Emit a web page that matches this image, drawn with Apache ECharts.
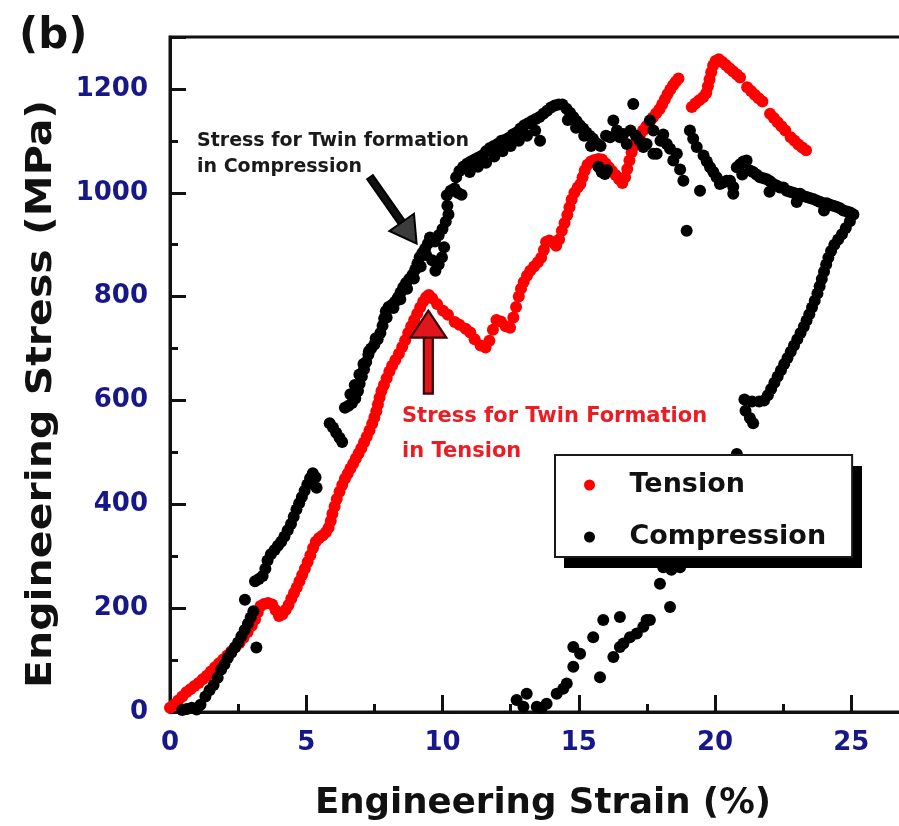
<!DOCTYPE html>
<html>
<head>
<meta charset="utf-8">
<script src="https://cdn.jsdelivr.net/npm/echarts@6/dist/echarts.min.js"></script>
<style>
  html, body { margin: 0; padding: 0; background: #ffffff; }
  #chart { width: 899px; height: 826px; }
</style>
</head>
<body>
<div id="chart"></div>
<script>
// Tick labels shown on each axis
const strainTickLabels = [0, 5, 10, 15, 20, 25];
const stressTickLabels = [0, 200, 400, 600, 800, 1000, 1200];

// Tension test: [engineering strain (%), engineering stress (MPa)]
const tension = [
  [0.00, 8], [0.15, 14], [0.30, 22], [0.45, 30], [0.60, 38], [0.75, 44], [0.90, 50], [1.05, 56],
  [1.20, 63], [1.35, 70], [1.50, 78], [1.65, 86], [1.80, 94], [1.95, 101], [2.10, 109], [2.25, 117],
  [2.40, 125], [2.55, 133], [2.70, 143], [2.85, 154], [3.00, 166], [3.12, 178], [3.22, 192], [3.32, 204],
  [3.45, 208], [3.60, 210], [3.75, 207], [3.88, 196], [4.00, 185], [4.12, 188], [4.25, 197],
  [4.35, 206], [4.45, 218], [4.55, 229], [4.65, 240], [4.75, 252], [4.85, 264], [4.95, 276], [5.05, 289],
  [5.15, 302], [5.25, 316], [5.35, 328], [5.47, 335], [5.60, 340], [5.72, 346], [5.82, 355], [5.90, 368],
  [5.96, 382], [6.04, 396], [6.12, 410], [6.22, 424], [6.32, 437], [6.42, 449], [6.52, 459], [6.62, 469],
  [6.72, 478], [6.82, 488], [6.92, 498], [7.02, 508], [7.12, 519], [7.22, 530], [7.32, 542], [7.42, 555],
  [7.50, 567], [7.57, 579], [7.63, 592], [7.69, 605], [7.76, 618], [7.85, 630], [7.95, 643], [8.05, 656],
  [8.15, 667], [8.27, 678], [8.40, 690], [8.52, 703], [8.63, 716], [8.74, 730], [8.85, 743], [8.96, 755],
  [9.07, 767], [9.18, 779], [9.29, 790], [9.40, 799], [9.50, 803],
  [9.62, 797], [9.80, 786], [10.02, 773], [10.20, 765], [10.45, 751], [10.62, 746], [10.85, 738],
  [11.02, 731], [11.18, 718], [11.40, 706], [11.58, 702], [11.72, 715], [11.85, 736], [11.98, 755],
  [12.14, 752], [12.32, 743], [12.48, 740], [12.60, 760], [12.70, 780], [12.80, 800], [12.88, 815],
  [12.98, 828], [13.10, 840], [13.22, 850], [13.36, 858], [13.50, 866], [13.62, 875], [13.72, 890],
  [13.80, 905], [13.92, 908], [14.05, 904], [14.17, 898], [14.28, 910], [14.38, 927], [14.48, 942],
  [14.58, 957], [14.66, 972], [14.74, 987], [14.84, 1000], [14.96, 1010], [15.06, 1017], [15.14, 1030],
  [15.22, 1043], [15.32, 1054], [15.45, 1060], [15.58, 1063], [15.72, 1065], [15.85, 1064], [15.98, 1057],
  [16.10, 1049], [16.22, 1042], [16.35, 1034], [16.48, 1026], [16.60, 1019], [16.70, 1030], [16.78, 1046],
  [16.86, 1062], [16.94, 1078], [17.02, 1090], [17.12, 1100], [17.24, 1110], [17.36, 1120], [17.48, 1128],
  [17.60, 1136], [17.72, 1145], [17.84, 1153], [17.96, 1161], [18.06, 1170], [18.16, 1180], [18.26, 1190],
  [18.36, 1199], [18.46, 1207], [18.56, 1214], [18.66, 1220],
  [19.15, 1165], [19.28, 1172], [19.42, 1178], [19.56, 1184], [19.68, 1192], [19.74, 1205], [19.80, 1218],
  [19.86, 1232], [19.93, 1245], [20.02, 1254], [20.14, 1257], [20.27, 1252], [20.40, 1246], [20.53, 1240],
  [20.66, 1234], [20.80, 1228], [20.92, 1222],
  [21.18, 1203], [21.32, 1196], [21.46, 1189], [21.60, 1182], [21.74, 1176],
  [22.02, 1152], [22.16, 1144], [22.30, 1136], [22.44, 1128], [22.58, 1120],
  [22.78, 1107], [22.92, 1100], [23.06, 1093], [23.20, 1087], [23.34, 1082]
];

// Compression test: [engineering strain (%), engineering stress (MPa)]
const compression = [
  [0.45, 4], [0.62, 6], [0.80, 8], [0.98, 5], [1.12, 14], [1.30, 30], [1.45, 42], [1.60, 52],
  [1.75, 66], [1.88, 82], [2.00, 92], [2.12, 104], [2.25, 114], [2.38, 124], [2.50, 134], [2.62, 146],
  [2.74, 158], [2.86, 170], [2.96, 182], [3.06, 194], [2.75, 216], [3.17, 124],
  [3.12, 252], [3.26, 256], [3.40, 262], [3.50, 276], [3.58, 292], [3.70, 304], [3.84, 312], [3.96, 320],
  [4.08, 328], [4.20, 338], [4.32, 350], [4.44, 362], [4.54, 376], [4.64, 390], [4.74, 402], [4.84, 414],
  [4.94, 426], [5.04, 438], [5.14, 450], [5.24, 460], [5.34, 452], [5.38, 432],
  [5.86, 556], [5.98, 548], [6.10, 538], [6.22, 528], [6.32, 520],
  [6.42, 586], [6.55, 590], [6.68, 595], [6.80, 604], [6.90, 618], [6.96, 632], [7.04, 646], [7.12, 660],
  [7.20, 674], [7.28, 688], [7.38, 700], [7.50, 708], [7.62, 718], [7.72, 730], [7.80, 744], [7.86, 758],
  [7.92, 772], [8.02, 780], [8.14, 784], [8.26, 790], [8.36, 798], [8.46, 808], [8.56, 818], [8.66, 826],
  [8.78, 834], [8.90, 842], [9.00, 852], [9.08, 864], [9.16, 876], [9.26, 884], [9.36, 892], [9.46, 902],
  [9.54, 914],
  [6.62, 612], [6.78, 630], [6.95, 650], [7.10, 670], [7.30, 695], [7.55, 720], [7.95, 760], [8.20, 778],
  [8.45, 795], [8.70, 815], [8.95, 835], [9.20, 858], [9.40, 880],
  [9.62, 870], [9.74, 850], [9.86, 862], [9.98, 876], [10.06, 895], [9.72, 906], [9.86, 918], [10.00, 930],
  [10.12, 944], [10.22, 958], [10.18, 975], [10.16, 995], [10.30, 1004], [10.44, 1008], [10.56, 1000],
  [10.70, 996],
  [10.50, 1030], [10.62, 1042], [10.76, 1050], [10.90, 1056], [11.04, 1060], [11.18, 1064], [11.32, 1068],
  [11.46, 1072], [11.60, 1080], [11.74, 1086], [11.88, 1090], [12.02, 1094], [12.16, 1100], [12.30, 1102],
  [12.44, 1106], [12.58, 1112], [12.72, 1116], [12.86, 1124], [13.00, 1130], [13.14, 1134], [13.28, 1138],
  [13.42, 1142], [13.56, 1146], [13.70, 1152], [13.84, 1158], [13.98, 1164], [14.12, 1168], [14.26, 1170],
  [14.40, 1170],
  [11.00, 1040], [11.30, 1050], [11.60, 1058], [11.90, 1070], [12.20, 1080], [12.50, 1090], [12.80, 1100],
  [13.10, 1110], [13.40, 1120], [13.58, 1100],
  [14.55, 1162], [14.68, 1154], [14.80, 1146], [14.92, 1138], [15.04, 1130], [15.16, 1124], [15.28, 1116],
  [15.40, 1110], [15.52, 1104], [15.64, 1096], [14.60, 1140], [14.90, 1125], [15.20, 1110], [15.45, 1090],
  [15.72, 1050], [15.84, 1040], [15.96, 1036], [16.04, 1044],
  [15.80, 1090], [16.00, 1110], [16.15, 1107], [16.27, 1139], [16.40, 1120], [16.51, 1107], [16.64, 1113],
  [16.76, 1094], [17.00, 1171], [16.90, 1120], [17.10, 1110], [17.24, 1100], [17.37, 1088], [17.49, 1094],
  [17.61, 1139], [17.74, 1120], [17.74, 1075], [17.86, 1075], [18.00, 1100], [18.10, 1112], [18.23, 1094],
  [18.35, 1085], [18.47, 1062], [18.60, 1075], [18.72, 1045], [18.84, 1023], [19.08, 1120], [19.20, 1104],
  [19.33, 1088], [19.45, 1004], [18.96, 927],
  [19.58, 1072], [19.70, 1060], [19.82, 1049], [19.94, 1040], [20.06, 1030], [20.18, 1017], [20.30, 1020],
  [20.43, 1023], [20.55, 1023], [20.67, 1011], [20.67, 998], [20.80, 1049], [20.92, 1055], [21.04, 1060],
  [21.16, 1062], [21.28, 1043], [21.40, 1040], [21.52, 1035], [21.65, 1030], [21.78, 1028], [21.90, 1026],
  [22.02, 1022], [22.14, 1017], [22.26, 1014], [22.38, 1010], [22.51, 1010], [22.63, 1004], [22.75, 1002],
  [22.87, 1000], [22.99, 998], [23.12, 998], [23.24, 994], [23.36, 992], [23.48, 990], [23.60, 988],
  [23.73, 985], [23.86, 982], [23.98, 980], [24.10, 980], [24.22, 977], [24.34, 975], [24.46, 973],
  [24.59, 970], [24.71, 966], [24.84, 964], [24.96, 962], [25.08, 958],
  [21.00, 1035], [22.00, 1002], [23.00, 982], [24.00, 966],
  [24.95, 945], [24.80, 932], [24.66, 920], [24.52, 910], [24.38, 900], [24.26, 888], [24.16, 875],
  [24.08, 862], [24.00, 848], [23.92, 834], [23.84, 820], [23.76, 806], [23.66, 792], [23.56, 779],
  [23.46, 766], [23.36, 754], [23.26, 742], [23.14, 730], [23.02, 718], [22.90, 706], [22.78, 694],
  [22.66, 682], [22.54, 670], [22.42, 658], [22.30, 646], [22.18, 634], [22.06, 622], [21.94, 610],
  [21.80, 600], [21.62, 598], [21.36, 598], [21.08, 602], [21.12, 580], [21.28, 566], [21.40, 556],
  [20.80, 497], [20.40, 450], [20.00, 410], [19.60, 368], [19.20, 322],
  [18.72, 279], [18.40, 274], [18.10, 279], [17.98, 247], [18.35, 202],
  [17.61, 177], [17.49, 177], [17.37, 164], [17.13, 151], [16.88, 144], [16.64, 132], [16.51, 125],
  [16.27, 106], [15.78, 67],
  [16.51, 183], [15.90, 177], [15.53, 144], [15.05, 112], [14.80, 125], [14.80, 87], [14.56, 55],
  [14.43, 45], [14.19, 35], [13.82, 16], [13.46, 10], [13.09, 35], [12.97, 10], [12.72, 23], [13.64, 8]
];

// Annotation arrows: [from strain, from stress, to strain, to stress]
const arrowSegments = [
  [7.34, 1030, 9.05, 902],
  [9.48, 613, 9.48, 773]
];
const arrowLooks = [
  { shaft: 7, head: 26, width: 30, fill: '#111111', headFill: '#3c3c3c', stroke: '#000000', line: 2 },
  { shaft: 9, head: 27, width: 36, fill: '#e0161c', headFill: '#e0161c', stroke: '#3a0505', line: 2.2 }
];

const FONT = 'DejaVu Sans';
const AXIS_BLUE = '#17178a';
const INK = '#111111';

// Legend frame (pixels) and the offset of its drop shadow
const legendBox = { left: 555, top: 455, width: 298, height: 102 };
const legendShadow = { dx: 9, dy: 11 };

const chart = echarts.init(document.getElementById('chart'), null, { renderer: 'canvas' });

const gridBox = { left: 170, top: 37, right: -88.5, bottom: 114, containLabel: false, outerBoundsMode: 'none' };

chart.setOption({
  animation: false,
  backgroundColor: '#ffffff',
  grid: [
    Object.assign({ show: true, borderColor: INK, borderWidth: 3, backgroundColor: 'transparent' }, gridBox),
    Object.assign({ show: false }, gridBox)
  ],
  xAxis: [
    {
      type: 'value', gridIndex: 0, min: 0, max: 30, interval: 5,
      axisLine: { show: true, onZero: false, lineStyle: { color: INK, width: 3 } },
      axisTick: { show: true, inside: true, length: 17, lineStyle: { color: INK, width: 3 } },
      minorTick: { show: true, splitNumber: 2, length: 8, lineStyle: { color: INK, width: 3 } },
      splitLine: { show: false },
      axisLabel: {
        margin: 18, color: AXIS_BLUE, fontFamily: FONT, fontWeight: 'bold', fontSize: 26,
        formatter: v => strainTickLabels.includes(v) ? String(v) : ''
      }
    },
    { type: 'value', gridIndex: 1, min: 0, max: 30, show: false }
  ],
  yAxis: [
    {
      type: 'value', gridIndex: 0, min: 0, max: 1300, interval: 200,
      axisLine: { show: true, onZero: false, lineStyle: { color: INK, width: 3 } },
      axisTick: { show: true, inside: true, length: 16, lineStyle: { color: INK, width: 3 } },
      splitLine: { show: false },
      axisLabel: {
        margin: 22, color: AXIS_BLUE, fontFamily: FONT, fontWeight: 'bold', fontSize: 26,
        formatter: v => stressTickLabels.includes(v) ? String(v) : ''
      }
    },
    {
      type: 'value', gridIndex: 1, min: 0, max: 1300, interval: 100,
      axisLine: { show: false },
      axisTick: { show: true, inside: true, length: 8, lineStyle: { color: INK, width: 3 } },
      axisLabel: { show: false },
      splitLine: { show: false }
    }
  ],
  legend: {
    data: ['Tension', 'Compression'],
    orient: 'vertical',
    left: legendBox.left, top: legendBox.top,
    width: legendBox.width,
    z: 10,
    icon: 'circle',
    itemWidth: 12, itemHeight: 11, itemGap: 22,
    padding: [15, 26, 5, 29],
    backgroundColor: '#ffffff',
    borderColor: '#1a1a1a', borderWidth: 2,
    selectedMode: false,
    textStyle: { fontFamily: FONT, fontWeight: 'bold', fontSize: 27, color: INK, lineHeight: 30, padding: [0, 0, 0, 29] }
  },
  series: [
    {
      name: 'Tension', type: 'scatter', xAxisIndex: 0, yAxisIndex: 0,
      data: tension, symbol: 'circle', symbolSize: 12,
      itemStyle: { color: '#fe0000', opacity: 1 }, z: 2, silent: true
    },
    {
      name: 'Compression', type: 'scatter', xAxisIndex: 0, yAxisIndex: 0,
      data: compression, symbol: 'circle', symbolSize: 12,
      itemStyle: { color: '#000000', opacity: 1 }, z: 3, silent: true
    },
    {
      type: 'custom', xAxisIndex: 0, yAxisIndex: 0, z: 5, silent: true, clip: false,
      data: arrowSegments,
      encode: { x: [0, 2], y: [1, 3] },
      renderItem: function (params, api) {
        const a = api.coord([api.value(0), api.value(1)]);
        const b = api.coord([api.value(2), api.value(3)]);
        const look = arrowLooks[params.dataIndex];
        const dx = b[0] - a[0], dy = b[1] - a[1];
        const len = Math.hypot(dx, dy);
        const ux = dx / len, uy = dy / len, nx = -uy, ny = ux;
        const bx = b[0] - ux * look.head, by = b[1] - uy * look.head;
        const s = look.shaft / 2, w = look.width / 2;
        return {
          type: 'group',
          children: [
            {
              type: 'polygon',
              shape: { points: [[a[0] + nx * s, a[1] + ny * s], [bx + nx * s, by + ny * s], [bx - nx * s, by - ny * s], [a[0] - nx * s, a[1] - ny * s]] },
              style: { fill: look.fill, stroke: look.stroke, lineWidth: look.line }
            },
            {
              type: 'polygon',
              shape: { points: [[b[0], b[1]], [bx + nx * w, by + ny * w], [bx - nx * w, by - ny * w]] },
              style: { fill: look.headFill, stroke: look.stroke, lineWidth: look.line, lineJoin: 'miter' }
            }
          ]
        };
      }
    }
  ],
  graphic: [
    {
      type: 'rect', z: 9, silent: true,
      shape: { x: legendBox.left + legendShadow.dx, y: legendBox.top + legendShadow.dy, width: legendBox.width, height: legendBox.height },
      style: { fill: '#000000' }
    },
    {
      type: 'text', x: 19, y: 37, silent: true,
      style: { text: '(b)', fill: INK, font: 'bold 42px "DejaVu Sans"', align: 'left', verticalAlign: 'middle' }
    },
    {
      type: 'text', x: 42, y: 394, rotation: Math.PI / 2, scaleX: 1.14, silent: true,
      style: { text: 'Engineering Stress (MPa)', fill: INK, font: 'bold 36px "DejaVu Sans"', align: 'center', verticalAlign: 'middle' }
    },
    {
      type: 'text', x: 543, y: 804, silent: true,
      style: { text: 'Engineering Strain (%)', fill: INK, font: 'bold 35.6px "DejaVu Sans"', align: 'center', verticalAlign: 'middle' }
    },
    {
      type: 'text', x: 197, y: 141, silent: true,
      style: { text: 'Stress for Twin formation', fill: '#1a1a1a', font: 'bold 19px "DejaVu Sans"', align: 'left', verticalAlign: 'middle' }
    },
    {
      type: 'text', x: 197, y: 167, silent: true,
      style: { text: 'in Compression', fill: '#1a1a1a', font: 'bold 19px "DejaVu Sans"', align: 'left', verticalAlign: 'middle' }
    },
    {
      type: 'text', x: 402, y: 417, silent: true,
      style: { text: 'Stress for Twin Formation', fill: '#ec1c24', font: 'bold 21px "DejaVu Sans"', align: 'left', verticalAlign: 'middle' }
    },
    {
      type: 'text', x: 402, y: 452, silent: true,
      style: { text: 'in Tension', fill: '#ec1c24', font: 'bold 21px "DejaVu Sans"', align: 'left', verticalAlign: 'middle' }
    }
  ]
});
</script>
</body>
</html>
